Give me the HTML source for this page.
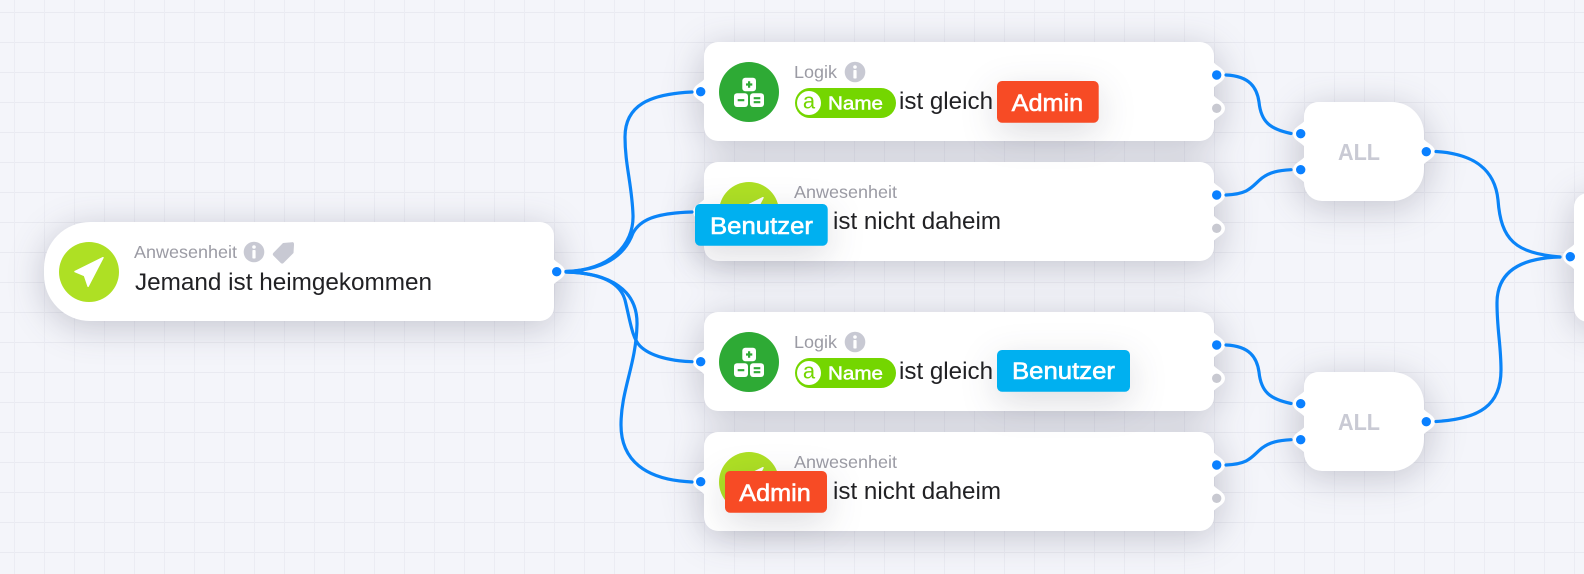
<!DOCTYPE html>
<html><head><meta charset="utf-8"><style>
html,body{margin:0;padding:0;width:1584px;height:574px;overflow:hidden;background:#f4f5fa}
#bg{position:absolute;left:0;top:0;width:1584px;height:574px;background-color:#f4f5fa;
background-image:linear-gradient(to right,#ebecf3 1px,transparent 1px),linear-gradient(to bottom,#e9eaf1 1px,transparent 1px);
background-size:30px 30px;background-position:14px 12px}
svg{position:absolute;left:0;top:0}
text{font-family:"Liberation Sans",sans-serif}
.sm{font-size:17.5px;fill:#9b9ba4}
.lg{font-size:24px;fill:#212124}
.tg{font-size:24.5px;fill:#fff;stroke:#fff;stroke-width:.6px}
.nm{font-size:18.5px;fill:#fff;stroke:#fff;stroke-width:.5px}
.all{font-size:23px;font-weight:bold;fill:#c9cad4}
.l{fill:none;stroke:#0a84f8;stroke-width:3.2;stroke-linecap:round}
.s{filter:drop-shadow(0 6px 18px rgba(40,40,70,.24))}
.t{filter:drop-shadow(0 10px 18px rgba(40,40,60,.16))}
</style></head><body>
<div id="bg"></div>
<svg width="1584" height="574" viewBox="0 0 1584 574">
<defs>
<path id="nl" d="M1 -14 C-1 -9 -11 -7 -11 0 C-11 7 -1 9 1 14 Z" fill="#fff"/>
<path id="nr" d="M-1 -14 C1 -9 11 -7 11 0 C11 7 1 9 -1 14 Z" fill="#fff"/>
<path id="alln" d="M1318 102 H1392 A32 32 0 0 1 1424 134 V169 A32 32 0 0 1 1392 201 H1322 A18 18 0 0 1 1304 183 V116 A14 14 0 0 1 1318 102 Z" fill="#fff"/>
<g id="info"><circle r="10.3" fill="#c8c9d3"/><circle cy="-5" r="1.8" fill="#fff"/><rect x="-1.6" y="-2" width="3.2" height="8.5" rx=".8" fill="#fff"/></g>
<g id="nav"><circle r="30" fill="#aee024"/><path d="M14 -14.300 L-14 -0.500 L-4.500 3.600 L-0.900 14.300 Z" fill="#fff" stroke="#fff" stroke-width="1.500" stroke-linejoin="round"/></g>
<g id="log"><circle r="30" fill="#2eaa35"/>
<rect x="-6.700" y="-14.300" width="13.700" height="13.500" rx="3" fill="#fff"/>
<rect x="-15" y="1.300" width="14" height="13.700" rx="3" fill="#fff"/>
<rect x="1" y="1.300" width="14" height="13.700" rx="3" fill="#fff"/>
<path d="M-3 -7.500 H3.300 M0.100 -10.700 V-4.300 M-11.300 8.200 H-4.700 M4.700 6.200 H11.300 M4.700 10.200 H11.300" stroke="#2eaa35" stroke-width="2.200" fill="none"/></g>
<g id="pill"><rect x="795" y="88" width="101" height="30" rx="15" fill="#74d600"/><circle cx="809" cy="103" r="12" fill="#fff"/>
<text x="802.900" y="108.500" fill="#74d600" style="font-size:22px">a</text><text class="nm" x="828" y="109.500" textLength="55" lengthAdjust="spacingAndGlyphs">Name</text></g>
</defs>

<g class="s">
<path d="M90 222 H540 A14 14 0 0 1 554 236 V307 A14 14 0 0 1 540 321 H90 A46 46 0 0 1 44 275 V268 A46 46 0 0 1 90 222 Z" fill="#fff"/>
<rect x="704" y="42" width="510" height="99" rx="14" fill="#fff"/>
<rect x="704" y="162" width="510" height="99" rx="14" fill="#fff"/>
<rect x="704" y="312" width="510" height="99" rx="14" fill="#fff"/>
<rect x="704" y="432" width="510" height="99" rx="14" fill="#fff"/>
<use href="#alln"/><use href="#alln" y="270"/>
<rect x="1574" y="193" width="60" height="129" rx="14" fill="#fff"/>
<use href="#nr" x="554" y="271.700"/>
<use href="#nl" x="704" y="91.700"/><use href="#nl" x="704" y="211.700"/><use href="#nl" x="704" y="361.700"/><use href="#nl" x="704" y="481.700"/>
<use href="#nr" x="1214" y="75"/><use href="#nr" x="1214" y="108.300"/><use href="#nr" x="1214" y="195"/><use href="#nr" x="1214" y="228.300"/>
<use href="#nr" x="1214" y="345"/><use href="#nr" x="1214" y="378.300"/><use href="#nr" x="1214" y="465"/><use href="#nr" x="1214" y="498.300"/>
<use href="#nl" x="1304" y="133.700"/><use href="#nl" x="1304" y="169.700"/><use href="#nl" x="1304" y="403.700"/><use href="#nl" x="1304" y="439.700"/>
<use href="#nr" x="1424" y="151.700"/><use href="#nr" x="1424" y="421.700"/><use href="#nl" x="1574" y="256.700"/>
</g>

<path class="l" d="M692 92 C650 94 625 105 625 137 C625 165 632 185 633 215 C634 245 610 270 566 271.500"/>
<path class="l" d="M692 212 C655 213 640 220 633 233 C625 255 605 270 566 271.500"/>
<path class="l" d="M566 272 C600 273 620 282 625 300 C630 320 632 338 640 346 C650 356 670 361 692 361.700"/>
<path class="l" d="M566 272 C610 273 638 290 637 325 C636 365 621 390 621 425 C621 460 645 480 692 482"/>
<path class="l" d="M1226 75 C1250 76 1257 88 1259 102 C1261 122 1270 129 1291 133.500"/>
<path class="l" d="M1226 195 C1250 194 1252 186 1262 178 C1270 172 1278 170.500 1291 169.700"/>
<path class="l" d="M1226 345 C1250 346 1257 358 1259 372 C1261 392 1270 399 1291 403.500"/>
<path class="l" d="M1226 465 C1250 464 1252 456 1262 448 C1270 442 1278 440.500 1291 439.700"/>
<path class="l" d="M1436 151.500 C1475 154 1495 170 1498 200 C1501 240 1515 253 1560 257"/>
<path class="l" d="M1436 421.500 C1480 419 1501 405 1501 370 C1501 345 1497 330 1497 303 C1497 272 1520 258 1560 257"/>

<g fill="#0a80ff">
<circle cx="556.700" cy="271.700" r="4.700"/><circle cx="700.700" cy="91.700" r="4.700"/><circle cx="700.700" cy="361.700" r="4.700"/><circle cx="700.700" cy="481.700" r="4.700"/><circle cx="700.700" cy="211.700" r="4.700"/>
<circle cx="1216.700" cy="75" r="4.700"/><circle cx="1216.700" cy="195" r="4.700"/><circle cx="1216.700" cy="345" r="4.700"/><circle cx="1216.700" cy="465" r="4.700"/>
<circle cx="1300.700" cy="133.700" r="4.700"/><circle cx="1300.700" cy="169.700" r="4.700"/><circle cx="1300.700" cy="403.700" r="4.700"/><circle cx="1300.700" cy="439.700" r="4.700"/>
<circle cx="1426.300" cy="151.700" r="4.700"/><circle cx="1426.300" cy="421.700" r="4.700"/><circle cx="1570.300" cy="256.700" r="4.700"/>
</g>
<g fill="#c8c9d1">
<circle cx="1216.700" cy="108.300" r="4.700"/><circle cx="1216.700" cy="228.300" r="4.700"/><circle cx="1216.700" cy="378.300" r="4.700"/><circle cx="1216.700" cy="498.300" r="4.700"/>
</g>

<use href="#nav" x="89" y="272"/>
<text class="sm" x="134" y="258" textLength="103" lengthAdjust="spacingAndGlyphs">Anwesenheit</text>
<use href="#info" x="254" y="252"/>
<path d="M283 243 L292 242.200 Q294.300 242 294 245 L293.500 253 L283.500 263 Q282 264.300 280.500 262.800 L273.500 255.800 Q272 254.300 273.500 252.800 Z" fill="#c8c9d3"/>
<text class="lg" x="135" y="290" textLength="297" lengthAdjust="spacingAndGlyphs">Jemand ist heimgekommen</text>

<use href="#log" x="749" y="92"/>
<text class="sm" x="794" y="78" textLength="43" lengthAdjust="spacingAndGlyphs">Logik</text>
<use href="#info" x="855" y="72"/>
<use href="#pill"/>
<text class="lg" x="899" y="109" textLength="94" lengthAdjust="spacingAndGlyphs">ist gleich</text>

<use href="#nav" x="749" y="212"/>
<text class="sm" x="794" y="198" textLength="103" lengthAdjust="spacingAndGlyphs">Anwesenheit</text>
<text class="lg" x="833" y="229" textLength="168" lengthAdjust="spacingAndGlyphs">ist nicht daheim</text>

<use href="#log" x="749" y="362"/>
<text class="sm" x="794" y="348" textLength="43" lengthAdjust="spacingAndGlyphs">Logik</text>
<use href="#info" x="855" y="342"/>
<use href="#pill" y="270"/>
<text class="lg" x="899" y="379" textLength="94" lengthAdjust="spacingAndGlyphs">ist gleich</text>

<use href="#nav" x="749" y="482"/>
<text class="sm" x="794" y="468" textLength="103" lengthAdjust="spacingAndGlyphs">Anwesenheit</text>
<text class="lg" x="833" y="499" textLength="168" lengthAdjust="spacingAndGlyphs">ist nicht daheim</text>

<text class="all" x="1338" y="160" textLength="42" lengthAdjust="spacingAndGlyphs">ALL</text>
<text class="all" x="1338" y="430" textLength="42" lengthAdjust="spacingAndGlyphs">ALL</text>

<g class="t"><rect x="997" y="81" width="101.700" height="41.700" rx="5" fill="#f74b25"/>
<text class="tg" x="1011.700" y="111" textLength="71.500" lengthAdjust="spacingAndGlyphs">Admin</text></g>
<g class="t"><rect x="695" y="204" width="132.700" height="41.700" rx="5" fill="#00b0f0"/>
<text class="tg" x="710" y="234" textLength="103" lengthAdjust="spacingAndGlyphs">Benutzer</text></g>
<g class="t"><rect x="997" y="350" width="133" height="41.700" rx="5" fill="#00b0f0"/>
<text class="tg" x="1012" y="379" textLength="103" lengthAdjust="spacingAndGlyphs">Benutzer</text></g>
<g class="t"><rect x="725" y="471" width="102" height="41.700" rx="5" fill="#f74b25"/>
<text class="tg" x="739.300" y="501" textLength="71.500" lengthAdjust="spacingAndGlyphs">Admin</text></g>
</svg>
</body></html>
